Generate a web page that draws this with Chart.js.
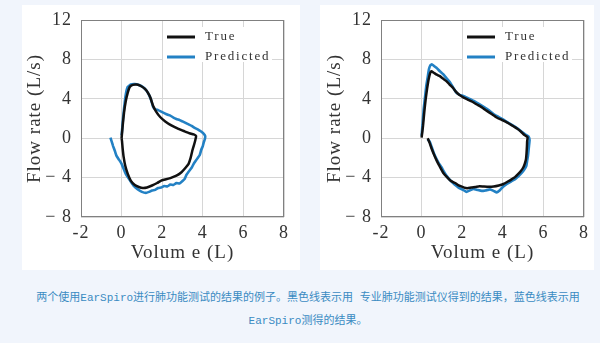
<!DOCTYPE html>
<html>
<head>
<meta charset="utf-8">
<script src="https://cdn.jsdelivr.net/npm/chart.js@4"></script>
<style>
  html, body { margin: 0; padding: 0; }
  body { width: 600px; height: 343px; background: #f1f5fc; position: relative; overflow: hidden; }
  .panel { position: absolute; top: 5px; height: 265px; background: #fff; }
  canvas { position: absolute; top: 0; }
  .caption {
    position: absolute; left: 22px; width: 572px; top: 287px;
    text-align: center; font: 11px/23px "Liberation Mono", "Noto Sans CJK SC", sans-serif;
    color: #3a8bc2;
  }
</style>
</head>
<body>
<div class="panel" style="left:22px;width:278px"></div>
<div class="panel" style="left:320px;width:274px"></div>
<canvas id="loopA" width="300" height="270" style="left:0"></canvas>
<canvas id="loopB" width="300" height="270" style="left:300px"></canvas>
<div class="caption">两个使用EarSpiro进行肺功能测试的结果的例子。黑色线表示用 专业肺功能测试仪得到的结果，蓝色线表示用<br>EarSpiro测得的结果。</div>

<script>
// Flow-volume loops, two subjects: spirometer ("True") vs EarSpiro ("Predicted")
const xTicks = [-2, 0, 2, 4, 6, 8];
const xTickLabels = ['-2', '0', '2', '4', '6', '8'];
const yTicks = [-8, -4, 0, 4, 8, 12];
const yTickLabels = ['\u2212 8', '\u2212 4', '0', '4', '8', '12'];
const seriesNames = ['True', 'Predicted'];

// subject A
const volTrueA = [0, 0.05, 0.12, 0.2, 0.3, 0.4, 0.55, 0.75, 0.95, 1.15, 1.3, 1.42, 1.55, 1.7, 1.9, 2.15, 2.45, 2.8, 3.1, 3.35, 3.55, 3.67,
  3.63, 3.55, 3.48, 3.4, 3.3, 3.15, 2.95, 2.7, 2.4, 2.15, 1.95, 1.75, 1.5, 1.25, 1.05, 0.85, 0.65, 0.45, 0.3, 0.18, 0.1, 0.05, 0.02, 0];
const flowTrueA = [0, 1.2, 2.6, 3.7, 4.6, 5.2, 5.42, 5.45, 5.3, 5.0, 4.6, 4.1, 3.3, 2.7, 2.15, 1.7, 1.3, 0.95, 0.7, 0.5, 0.38, 0.22,
  -0.2, -0.8, -1.3, -2.0, -2.6, -3.0, -3.45, -3.8, -4.05, -4.2, -4.3, -4.55, -4.8, -5.0, -5.05, -4.95, -4.75, -4.3, -3.6, -2.8, -1.9, -1.0, -0.3, 0];
const volPredA = [-0.55, -0.48, -0.42, -0.33, -0.25, -0.12, 0, 0.1, 0.2, 0.32, 0.45, 0.6, 0.8, 1.0, 1.2, 1.35, 1.5, 1.65, 1.8, 1.95, 2.1, 2.25,
  2.4, 2.55, 2.7, 2.85, 3.0, 3.1, 3.2, 3.3, 3.45, 3.55, 3.65, 3.75, 3.85, 3.92, 4.0, 4.05, 4.1, 4.12, 4.05, 3.9, 3.75, 3.6, 3.45, 3.3,
  3.15, 3.0, 2.85, 2.7, 2.55, 2.4, 2.25, 2.1, 1.95, 1.8, 1.65, 1.55, 1.45, 1.35, 1.22, 1.05, 0.85, 0.65, 0.45, 0.3, 0.22, 0.17, 0.12,
  0.07, 0.03, 0];
const flowPredA = [0.05, -0.4, -0.8, -1.3, -1.8, -2.2, -2.6, -3.1, -3.6, -4.0, -4.4, -4.85, -5.2, -5.45, -5.55, -5.45, -5.3, -5.25, -5.05,
  -5.0, -4.85, -4.9, -4.7, -4.75, -4.55, -4.6, -4.35, -4.15, -3.7, -3.4, -3.0, -2.6, -2.3, -2.0, -1.7, -1.2, -0.8, -0.4, -0.1, 0.2,
  0.45, 0.7, 0.9, 1.05, 1.25, 1.4, 1.55, 1.7, 1.85, 1.95, 2.1, 2.3, 2.4, 2.55, 2.7, 2.85, 2.95, 3.2, 3.9, 4.4, 4.85, 5.2, 5.4, 5.5,
  5.45, 5.2, 4.6, 3.9, 3.0, 2.0, 1.0, 0.3];

// subject B
const volTrueB = [0, 0.07, 0.13, 0.2, 0.27, 0.34, 0.42, 0.48, 0.6, 0.75, 0.9, 1.05, 1.22, 1.38, 1.55, 1.7, 1.85, 2.05, 2.25, 2.5, 2.7,
  2.95, 3.2, 3.45, 3.7, 3.95, 4.2, 4.45, 4.7, 4.9, 5.05, 5.22, 5.2, 5.19, 5.17, 5.14, 5.08, 5.0, 4.88, 4.75, 4.6, 4.45, 4.25, 4.03,
  3.8, 3.55, 3.3, 3.05, 2.85, 2.65, 2.45, 2.25, 2.1, 1.95, 1.8, 1.65, 1.45, 1.25, 1.06, 0.9, 0.75, 0.62, 0.5, 0.4, 0.3];
const flowTrueB = [0.05, 1.25, 2.6, 3.95, 5.0, 5.9, 6.6, 6.8, 6.65, 6.45, 6.3, 6.05, 5.8, 5.45, 5.1, 4.7, 4.4, 4.15, 3.95, 3.7, 3.45,
  3.15, 2.8, 2.45, 2.1, 1.85, 1.6, 1.3, 0.98, 0.65, 0.35, 0.1, -0.3, -0.8, -1.5, -2.15, -2.6, -3.0, -3.35, -3.65, -3.95, -4.15, -4.4,
  -4.65, -4.8, -4.9, -4.92, -4.9, -4.88, -4.95, -5.0, -5.07, -5.02, -4.9, -4.76, -4.55, -4.35, -3.95, -3.5, -2.9, -2.3, -1.7, -1.1,
  -0.5, 0];
const volPredB = [0, 0.05, 0.1, 0.17, 0.23, 0.3, 0.36, 0.43, 0.5, 0.6, 0.73, 0.9, 1.06, 1.22, 1.39, 1.55, 1.72, 1.88, 2.05, 2.3, 2.55,
  2.8, 3.04, 3.3, 3.54, 3.8, 4.03, 4.28, 4.53, 4.75, 4.94, 5.1, 5.27, 5.32, 5.3, 5.27, 5.24, 5.2, 5.16, 5.05, 4.94, 4.78, 4.61, 4.4,
  4.2, 4.0, 3.87, 3.7, 3.55, 3.37, 3.15, 2.96, 2.75, 2.55, 2.38, 2.21, 2.05, 1.88, 1.72, 1.55, 1.38, 1.22, 1.1, 0.98, 0.85, 0.73, 0.6,
  0.48, 0.4, 0.3];
const flowPredB = [0.25, 1.5, 2.9, 4.2, 5.3, 6.2, 7.0, 7.4, 7.5, 7.35, 7.15, 6.8, 6.5, 6.1, 5.7, 5.15, 4.6, 4.4, 4.3, 4.05, 3.8, 3.5,
  3.2, 2.85, 2.45, 2.15, 1.88, 1.55, 1.25, 0.95, 0.65, 0.4, 0.17, -0.2, -0.6, -1.2, -1.8, -2.3, -2.8, -3.2, -3.5, -3.85, -4.15, -4.4,
  -4.65, -4.95, -5.25, -5.5, -5.35, -5.2, -5.3, -5.35, -5.25, -5.15, -5.3, -5.45, -5.25, -5.1, -4.85, -4.55, -4.2, -3.8, -3.4, -2.95,
  -2.55, -2.1, -1.5, -0.8, -0.35, -0.1];

const TRUE_COLOR = '#111111';
const PRED_COLOR = '#2381c4';
const TEXT_COLOR = '#333333';

function toPoints(xs, ys) {
  return xs.map((x, i) => ({ x: x, y: ys[i] }));
}

// box round the plot area
const frame = {
  id: 'frame',
  beforeDraw(chart) {
    chart.ctx.letterSpacing = '1px';
  },
  beforeDatasetsDraw(chart) {
    const { ctx, chartArea: a } = chart;
    ctx.save();
    ctx.strokeStyle = '#808080';
    ctx.lineWidth = 1;
    ctx.strokeRect(a.left + 0.5, a.top + 0.5, a.right - a.left - 1, a.bottom - a.top - 1);
    ctx.restore();
  }
};

// legend drawn inside the plot, top right
const innerLegend = {
  id: 'innerLegend',
  afterDraw(chart) {
    const { ctx, chartArea: a } = chart;
    const x0 = a.left + 82;
    const y0 = a.top + 7;
    ctx.save();
    ctx.fillStyle = '#fff';
    ctx.fillRect(x0, y0, 109, 35);
    ctx.letterSpacing = '1.8px';
    ctx.font = '13px "Liberation Serif", serif';
    ctx.textBaseline = 'middle';
    chart.data.datasets.forEach((ds, i) => {
      const y = y0 + 10 + i * 20;
      ctx.strokeStyle = ds.borderColor;
      ctx.lineWidth = 3;
      ctx.beginPath();
      ctx.moveTo(x0 + 4, y);
      ctx.lineTo(x0 + 32, y);
      ctx.stroke();
      ctx.fillStyle = TEXT_COLOR;
      ctx.fillText(ds.label, x0 + 42, y);
    });
    ctx.restore();
  }
};

function makeLoop(canvasId, volTrue, flowTrue, volPred, flowPred) {
  return new Chart(document.getElementById(canvasId), {
    type: 'scatter',
    data: {
      datasets: [
        {
          label: seriesNames[0],
          data: toPoints(volTrue, flowTrue),
          showLine: true,
          borderColor: TRUE_COLOR,
          borderWidth: 2.5,
          pointRadius: 0,
          tension: 0.15
        },
        {
          label: seriesNames[1],
          data: toPoints(volPred, flowPred),
          showLine: true,
          borderColor: PRED_COLOR,
          borderWidth: 2.6,
          pointRadius: 0,
          tension: 0.1
        }
      ]
    },
    options: {
      responsive: false,
      animation: false,
      devicePixelRatio: 1,
      layout: { padding: { left: 0, top: 20, right: 16, bottom: 0 } },
      plugins: {
        legend: { display: false },
        tooltip: { enabled: false }
      },
      scales: {
        x: {
          type: 'linear',
          min: -2,
          max: 8,
          afterFit(scale) { scale.height = 53; },
          afterBuildTicks(scale) { scale.ticks = xTicks.map(v => ({ value: v })); },
          grid: { color: '#d6d6d6', drawTicks: false },
          border: { display: false },
          ticks: {
            padding: 5,
            color: TEXT_COLOR,
            font: { family: '"Liberation Serif", serif', size: 18 },
            callback: v => xTickLabels[xTicks.indexOf(v)]
          },
          title: {
            display: true,
            text: 'Volum e (L)',
            color: TEXT_COLOR,
            font: { family: '"Liberation Serif", serif', size: 19 },
            padding: { top: 0, bottom: 6 }
          }
        },
        y: {
          type: 'linear',
          min: -8,
          max: 12,
          afterFit(scale) { scale.width = 81; },
          afterBuildTicks(scale) { scale.ticks = yTicks.map(v => ({ value: v })); },
          grid: { color: '#d6d6d6', drawTicks: false },
          border: { display: false },
          ticks: {
            padding: 9,
            color: TEXT_COLOR,
            font: { family: '"Liberation Serif", serif', size: 18 },
            callback: v => yTickLabels[yTicks.indexOf(v)]
          },
          title: {
            display: true,
            text: 'Flow rate (L/s)',
            color: TEXT_COLOR,
            font: { family: '"Liberation Serif", serif', size: 19 },
            padding: { top: 24, bottom: 0 }
          }
        }
      }
    },
    plugins: [frame, innerLegend]
  });
}

makeLoop('loopA', volTrueA, flowTrueA, volPredA, flowPredA);
makeLoop('loopB', volTrueB, flowTrueB, volPredB, flowPredB);
</script>
</body>
</html>
